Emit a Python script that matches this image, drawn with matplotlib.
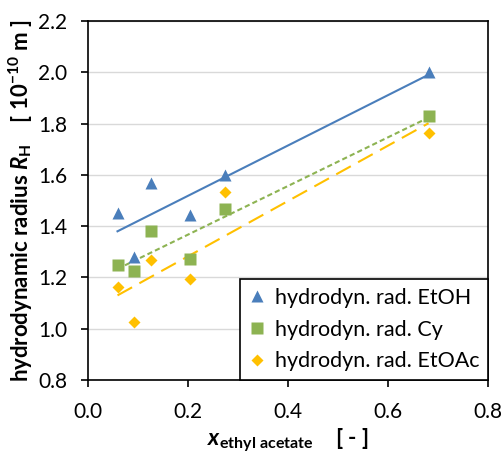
import numpy as np
import matplotlib
matplotlib.use("Agg")
import matplotlib.pyplot as plt

x_values = [0.059, 0.091, 0.125, 0.204, 0.274, 0.681]
r_etoh = [1.450, 1.281, 1.567, 1.443, 1.599, 2.000]
r_cy = [1.248, 1.226, 1.382, 1.273, 1.466, 1.829]
r_etoac = [1.161, 1.025, 1.269, 1.195, 1.532, 1.764]

series_labels = ["hydrodyn. rad. EtOH", "hydrodyn. rad. Cy", "hydrodyn. rad. EtOAc"]
x_ticks = [0.0, 0.2, 0.4, 0.6, 0.8]
y_ticks = [0.8, 1.0, 1.2, 1.4, 1.6, 1.8, 2.0, 2.2]

plt.rcParams["font.family"] = ["Lato", "DejaVu Sans"]
plt.rcParams["mathtext.fontset"] = "custom"
plt.rcParams["mathtext.rm"] = "Lato:weight=bold"
plt.rcParams["mathtext.it"] = "Lato:style=italic:weight=bold"
plt.rcParams["mathtext.bf"] = "Lato:weight=bold"

fig = plt.figure(figsize=(5.04, 4.55), dpi=100)
ax = fig.add_axes([0.1746, 0.1648, 0.7937, 0.789])

styles = [
    dict(color="#4A7EBB", marker="^", ls="-", ms=8, dashes=None),
    dict(color="#8DB352", marker="s", ls="--", ms=8, dashes=(2.5, 1.5)),
    dict(color="#FFC000", marker="D", ls="--", ms=6, dashes=(8, 4)),
]
xs = np.array(x_values)
for ys, label, st in zip([r_etoh, r_cy, r_etoac], series_labels, styles):
    ax.plot(xs, ys, ls="none", marker=st["marker"], color=st["color"],
            ms=st["ms"], mec="none", label=label, zorder=3)
    k, b = np.polyfit(xs, ys, 1)
    xl = np.array([xs.min(), xs.max()])
    line, = ax.plot(xl, k * xl + b, color=st["color"], lw=1.5, ls=st["ls"], zorder=2)
    if st["dashes"]:
        line.set_dashes(st["dashes"])

ax.set_xlim(0, 0.8)
ax.set_ylim(0.8, 2.2)
ax.set_xticks(x_ticks)
ax.set_yticks(y_ticks)
ax.set_xticklabels([f"{v:.1f}" for v in x_ticks])
ax.set_yticklabels([f"{v:.1f}" for v in y_ticks])
ax.tick_params(labelsize=15, direction="out", length=5, width=1.2, color="black")
ax.tick_params(axis="x", pad=11)
ax.tick_params(axis="y", pad=10)
ax.grid(axis="y", color="#D9D9D9", lw=1)
ax.set_axisbelow(True)
for sp in ax.spines.values():
    sp.set_linewidth(1.2)
    sp.set_color("black")

ax.set_ylabel(r"hydrodynamic radius $R_\mathrm{H}$    [ 10$^{-10}$ m ]",
              fontsize=16, fontweight="bold", labelpad=2)
ax.set_xlabel(r"$x_\mathrm{ethyl\ acetate}$    [ - ]", fontsize=16.5, fontweight="bold", labelpad=3)

leg = ax.legend(loc="lower right", fontsize=15.5, frameon=True, fancybox=False,
                borderaxespad=0, handlelength=0.7, handletextpad=0.5,
                labelspacing=0.55, borderpad=0.4)
leg.get_frame().set_edgecolor("black")
leg.get_frame().set_linewidth(1.2)
leg.get_frame().set_alpha(1)

fig.savefig("out.png", dpi=100)
